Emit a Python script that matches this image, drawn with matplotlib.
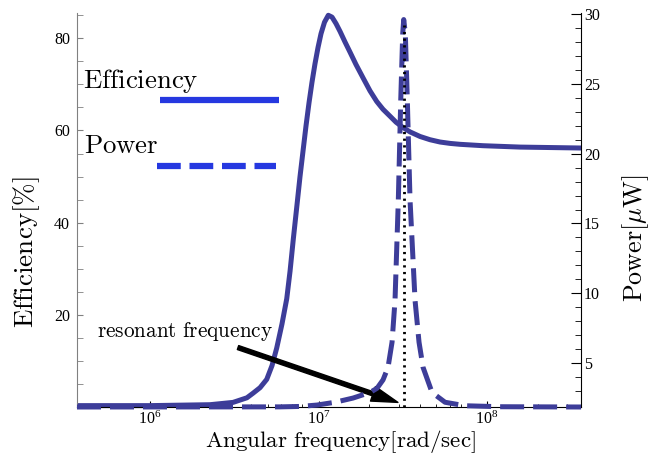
import matplotlib
matplotlib.use('Agg')
import matplotlib.pyplot as plt
from matplotlib.ticker import FixedLocator, MultipleLocator, LogLocator, NullFormatter

plt.rcParams['font.family'] = 'Liberation Serif'
plt.rcParams['mathtext.fontset'] = 'stix'

# efficiency curve
eff_freq = [3.69e5, 1.00e6, 2.27e6, 3.11e6, 3.76e6, 4.09e6, 4.50e6, 4.93e6,
            5.30e6, 5.65e6, 6.07e6, 6.48e6, 6.78e6, 7.09e6, 7.46e6, 7.767e6,
            8.091e6, 8.430e6, 8.782e6, 9.150e6, 9.533e6, 9.932e6, 1.0347e7,
            1.0853e7, 1.143e7, 1.203e7, 1.2703e7, 1.342e7, 1.4366e7, 1.538e7,
            1.6696e7, 1.845e7, 2.021e7, 2.215e7, 2.414e7, 2.657e7, 2.884e7,
            3.186e7, 3.491e7, 4.004e7, 4.588e7, 5.26e7, 6.032e7, 6.92e7,
            9.47e7, 1.57e8, 3.61e8]
eff_vals = [0.3, 0.3, 0.5, 1.0, 2.0, 3.0, 4.2, 6.0,
            9.0, 12.8, 18.0, 23.5, 29.5, 36.5, 44.0, 50.0,
            55.5, 61.0, 66.0, 70.5, 74.5, 78.0, 81.0,
            83.5, 85.0, 84.6, 83.2, 81.5, 79.2, 77.0,
            74.3, 71.3, 68.6, 66.3, 64.6, 63.1, 61.8,
            60.6, 59.7, 58.7, 58.0, 57.5, 57.2, 57.0,
            56.7, 56.4, 56.2]

# power curve
pow_freq = [3.69e5, 5.91e6, 7.77e6, 9.80e6, 1.253e7, 1.602e7, 2.021e7, 2.224e7,
            2.414e7, 2.585e7, 2.731e7, 2.844e7, 2.976e7, 3.075e7, 3.160e7,
            3.203e7, 3.274e7, 3.365e7, 3.491e7, 3.739e7, 3.948e7, 4.171e7,
            4.716e7, 5.633e7, 7.404e7, 1.195e8, 3.61e8]
pow_vals = [1.86, 1.87, 1.9, 2.0, 2.2, 2.5, 2.9, 3.2,
            3.8, 4.7, 6.5, 9.5, 16.7, 23.8, 28.6,
            29.6, 28.6, 23.8, 16.7, 9.5, 6.5, 4.7,
            2.9, 2.2, 1.95, 1.88, 1.86]

f_res = 3.22e7
p_res_top = 29.2

x_range = (3.69e5, 3.61e8)
eff_range = (0, 85.5)
pow_range = (1.86, 30.07)

curve_col = '#3d3d99'
legend_col = '#2538e0'
dash = (4.8, 1.8)

fig = plt.figure(figsize=(6.66, 4.57), dpi=100)
ax = fig.add_axes([0.1156, 0.1094, 0.7568, 0.8622])
ax2 = ax.twinx()

ax.plot(eff_freq, eff_vals, color=curve_col, lw=3.6, solid_capstyle='butt',
        solid_joinstyle='round', clip_on=False)
ax2.plot(pow_freq, pow_vals, color=curve_col, lw=3.6, dashes=dash, clip_on=False)
ax2.plot([f_res, f_res], [pow_range[0], p_res_top], color='black', lw=2,
         linestyle=(0, (0.8, 1.6)))

ax.set_xscale('log')
ax.set_xlim(*x_range)
ax.set_ylim(*eff_range)
ax2.set_ylim(*pow_range)

ax.yaxis.set_major_locator(FixedLocator([20, 40, 60, 80]))
ax.yaxis.set_minor_locator(MultipleLocator(5))
ax2.yaxis.set_major_locator(FixedLocator([5, 10, 15, 20, 25, 30]))
ax2.yaxis.set_minor_locator(MultipleLocator(1))
ax.xaxis.set_major_locator(LogLocator(base=10, numticks=10))
ax.xaxis.set_minor_locator(LogLocator(base=10, subs=range(2, 10), numticks=20))
ax.xaxis.set_minor_formatter(NullFormatter())

ax.spines['top'].set_visible(False)
ax2.spines['top'].set_visible(False)
ax.spines['left'].set_color('#808080')
ax2.spines['left'].set_visible(False)
ax.spines['right'].set_visible(False)
ax2.spines['bottom'].set_visible(False)
ax2.spines['right'].set_color('black')

ax.tick_params(axis='y', which='both', direction='in', color='#808080', labelsize=11.5,
               pad=5, length=4.5)
ax.tick_params(axis='x', which='major', direction='in', length=4.5, labelsize=11.5, pad=2.5)
ax.tick_params(axis='x', which='minor', direction='in', length=2.5)
ax2.tick_params(axis='y', which='major', direction='in', length=7, labelsize=11.5, pad=2)
ax2.tick_params(axis='y', which='minor', direction='in', length=4)

ax.set_xlabel(r'$\mathrm{Angular\ frequency}[\mathrm{rad/sec}]$', fontsize=16.6,
              math_fontfamily='cm')
ax.xaxis.set_label_coords(0.522, -0.054)
ax.set_ylabel(r'$\mathrm{Efficiency}[\%]$', fontsize=19.5, math_fontfamily='cm')
ax.yaxis.set_label_coords(-0.069, 0.393)
ax2.set_ylabel(r'$\mathrm{Power}[\mu\mathrm{W}]$', fontsize=18.8, math_fontfamily='cm')
ax2.yaxis.set_label_coords(1.078, 0.429)

# legend drawn by hand (text above each line sample)
ax.text(0.012, 0.81, r'$\mathrm{Efficiency}$', transform=ax.transAxes, fontsize=19.3,
        math_fontfamily='cm', va='baseline')
ax.plot([0.1647, 0.4008], [0.779, 0.779], transform=ax.transAxes, color=legend_col,
        lw=4.5, solid_capstyle='butt')
ax.text(0.013, 0.645, r'$\mathrm{Power}$', transform=ax.transAxes, fontsize=19.3,
        math_fontfamily='cm', va='baseline')
ax.plot([0.1587, 0.3948], [0.6117, 0.6117], transform=ax.transAxes, color=legend_col,
        lw=4.5, dashes=(3.8, 1.4))

ax.text(0.0397, 0.1777, r'$\mathrm{resonant\ frequency}$', transform=ax.transAxes,
        fontsize=15.3, math_fontfamily='cm', va='baseline')
ax.annotate('', xy=(2.96e7, 1.0), xytext=(3.33e6, 12.9),
            arrowprops=dict(facecolor='black', edgecolor='black', width=3,
                            headwidth=11, headlength=19, shrink=0))

fig.savefig('out.png', dpi=100)
